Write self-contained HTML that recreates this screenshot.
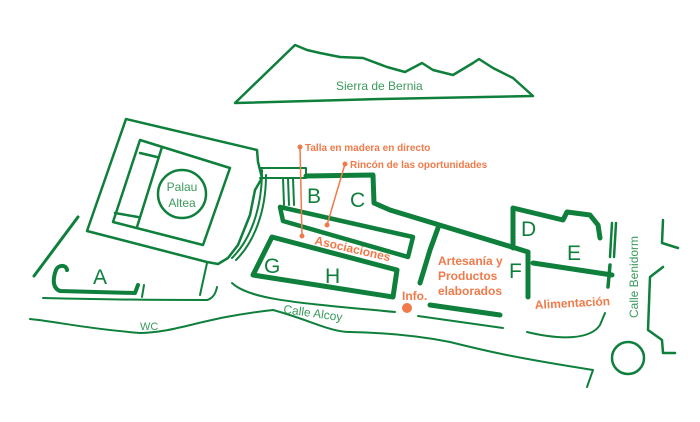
<!DOCTYPE html>
<html><head><meta charset="utf-8"><style>
html,body{margin:0;padding:0;background:#fff;}
svg{display:block;}
.g{fill:none;stroke:#0f7f3c;stroke-linecap:round;stroke-linejoin:round;}
.t{font-family:"Liberation Sans",sans-serif;fill:#3a9a5c;}
.L{font-family:"Liberation Sans",sans-serif;fill:#0f7f3c;font-size:21px;}
.o{font-family:"Liberation Sans",sans-serif;fill:#f07a4a;font-weight:bold;}
</style></head><body>
<svg width="700" height="422" viewBox="0 0 700 422" xmlns="http://www.w3.org/2000/svg">
<!-- mountain -->
<path class="g" stroke-width="2.5" d="M235,103 L295,45 L307,50 L320,53 L340,57 L363,58 L387,67 L405,72 L422,63 L433,70 L453,75 L473,63 L479,59 L493,68 L513,78 L533,96 L380,99 Z"/>
<text class="t" x="336" y="90" font-size="12">Sierra de Bernia</text>

<!-- Palau outer -->
<path class="g" stroke-width="2.5" d="M126,119 L257,150 L258,162 L262,178 L255,190 L250,215 L238,245 L228,258 L218,264 L207,262 L87,231 Z"/>
<path class="g" stroke-width="2" d="M207,263 L200,295 M43,298 C120,300 180,300 207,300 C214,298 216,292 217,287"/>
<path class="g" stroke-width="2" d="M262,170 C262,210 250,240 232,258 M266,175 C266,212 254,242 236,260"/>
<!-- inner -->
<path class="g" stroke-width="2.5" d="M140,140 L230,168 L203,245 L113,222 Z M162,147 L137,227 M140,153 L157,157 M115,213 L138,217"/>
<circle class="g" stroke-width="2.5" cx="182" cy="194" r="24"/>
<text class="t" x="182" y="191" font-size="12" text-anchor="middle">Palau</text>
<text class="t" x="182" y="207" font-size="12" text-anchor="middle">Altea</text>

<!-- connector and bars -->
<path class="g" stroke-width="2" d="M260,168 L306,168 L306,178 L260,178 M283,178 L284,205 M288,178 L289,205 M293,178 L294,205"/>

<!-- B-C block -->
<path class="g" stroke-width="5" d="M306,176 L373,175 L374,203 L390,210 L512,247 L528,252 L528,297"/>
<path class="g" stroke-width="5" d="M533,263 L612,275 M513,248 L513,208 L563,220 L567,212 L590,215 L598,225 L600,238"/>
<path class="g" stroke-width="2.5" d="M612,223 L610,257 M616,223 L614,257"/>
<path class="g" stroke-width="3.5" d="M610,265 L608,287"/>

<!-- Asociaciones bar -->
<path class="g" stroke-width="4.5" d="M280,207 L413,237 L408,257 L283,221 Z"/>
<!-- G-H -->
<path class="g" stroke-width="5" d="M272,237 L397,270 L393,297 L253,275 Z"/>
<!-- Artesania line -->
<path class="g" stroke-width="5" d="M438,228 L430,250 L420,283"/>

<!-- Info area -->
<circle cx="407" cy="308" r="5" fill="#f07a4a"/>
<path class="g" stroke-width="5" d="M430,305 L500,315"/>
<path class="g" stroke-width="2" d="M418,316 L503,328"/>

<!-- roads -->
<path class="g" stroke-width="2" d="M232,283 C250,300 300,303 395,312"/>
<path class="g" stroke-width="2" d="M30,319 C60,322 80,328 140,333 C180,332 200,318 273,310 C310,320 330,332 350,332 C400,333 430,338 450,342 C490,352 517,358 593,370 L587,387"/>
<path class="g" stroke-width="2" d="M527,332 C560,340 590,340 600,325 L605,313"/>

<!-- right side -->
<path class="g" stroke-width="2.5" d="M663,220 L662,243 L678,248 M663,267 L650,277 L648,330 L662,340 L663,353 L675,353"/>
<circle class="g" stroke-width="2.5" cx="628" cy="358" r="16"/>
<text class="t" font-size="12" transform="translate(638,318) rotate(-90)">Calle Benidorm</text>

<!-- A area -->
<path class="g" stroke-width="3" d="M78,217 L34,276"/>
<path class="g" stroke-width="4" d="M67,270 C66,264 58,265 56,270 C53,278 52,288 60,291 L135,293 L138,285"/>
<path class="g" stroke-width="2" d="M144,285 L142,297"/>

<!-- letters -->
<text class="L" x="93" y="284">A</text>
<text class="L" x="307" y="203">B</text>
<text class="L" x="350" y="207">C</text>
<text class="L" x="521" y="236">D</text>
<text class="L" x="567" y="260">E</text>
<text class="L" x="509" y="278">F</text>
<text class="L" x="264" y="273">G</text>
<text class="L" x="325" y="283">H</text>

<text class="t" x="140" y="330" font-size="11">WC</text>
<text class="t" font-size="12" transform="translate(283,313) rotate(8)">Calle Alcoy</text>

<!-- orange -->
<circle cx="300" cy="147" r="2.5" fill="#f07a4a"/>
<path d="M300,147 L302,236" stroke="#f07a4a" stroke-width="1.5"/>
<circle cx="302" cy="236" r="2.5" fill="#f07a4a"/>
<text class="o" x="305" y="151" font-size="10">Talla en madera en directo</text>
<circle cx="345" cy="164" r="2.5" fill="#f07a4a"/>
<path d="M345,164 L327,225" stroke="#f07a4a" stroke-width="1.5"/>
<circle cx="327" cy="225" r="2.5" fill="#f07a4a"/>
<text class="o" x="350" y="168" font-size="10">Rincón de las oportunidades</text>
<text class="o" font-size="12" transform="translate(314,244) rotate(13)">Asociaciones</text>
<text class="o" x="438" y="265" font-size="12">Artesanía y</text>
<text class="o" x="438" y="280" font-size="12">Productos</text>
<text class="o" x="438" y="295" font-size="12">elaborados</text>
<text class="o" x="402" y="300" font-size="12">Info.</text>
<text class="o" font-size="12" transform="translate(535,309) rotate(-3)">Alimentación</text>
</svg>
</body></html>
